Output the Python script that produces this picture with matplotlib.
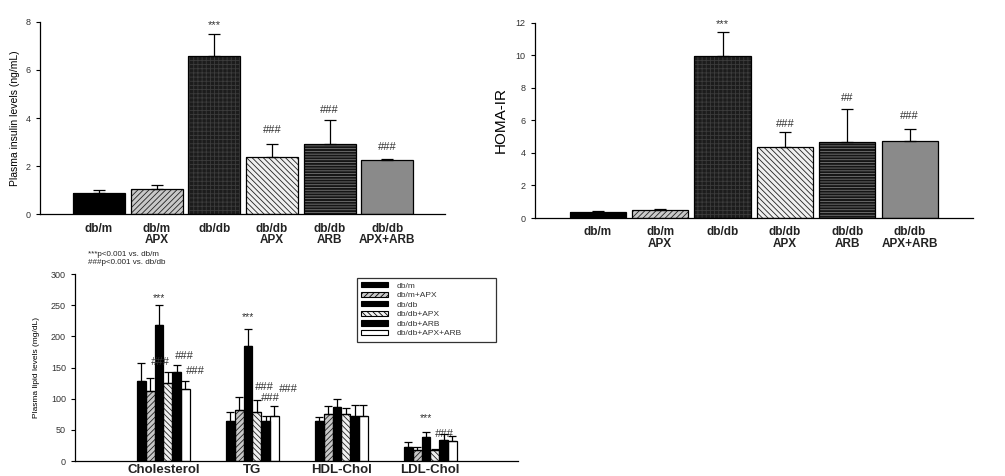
import numpy as np
import matplotlib.pyplot as plt
from matplotlib.patches import Patch

plt.rcParams['font.family'] = ['Liberation Sans', 'DejaVu Sans']
plt.rcParams['hatch.linewidth'] = 0.6

# top panels: six groups
groups = ["db/m", "db/m\nAPX", "db/db", "db/db\nAPX", "db/db\nARB", "db/db\nAPX+ARB"]
insulin = [0.9, 1.05, 6.6, 2.4, 2.9, 2.25]
insulin_err = [0.1, 0.15, 0.9, 0.5, 1.0, 0.05]
insulin_marks = ["", "", "***", "###", "###", "###"]
insulin_mark_y = [0, 0, 7.85, 3.5, 4.35, 2.8]

homa = [0.4, 0.5, 9.95, 4.35, 4.7, 4.75]
homa_err = [0.05, 0.05, 1.5, 0.95, 2.0, 0.75]
homa_marks = ["", "", "***", "###", "##", "###"]
homa_mark_y = [0, 0, 11.9, 5.8, 7.4, 6.3]

# bottom panel: lipids
lipids = ["Cholesterol", "TG", "HDL-Chol", "LDL-Chol"]
series = ["db/m", "db/m+APX", "db/db", "db/db+APX", "db/db+ARB", "db/db+APX+ARB"]
lipid_vals = [
    [128, 65, 65, 22],
    [113, 82, 75, 17],
    [218, 185, 87, 38],
    [126, 78, 75, 18],
    [143, 64, 73, 34],
    [116, 72, 72, 32],
]
lipid_err = [
    [29, 13, 6, 8],
    [20, 21, 13, 5],
    [32, 27, 12, 8],
    [17, 20, 10, 2],
    [11, 8, 17, 9],
    [13, 16, 18, 8],
]
star_x = [-0.05, 0.95, 2.95]
star_y = [261, 231, 69]
hash_x = [-0.04, 0.236, 0.354, 1.13, 1.2, 1.4, 3.157]
hash_y = [159, 168, 144, 119, 101, 115, 43]

# (face, hatch, hatch colour)
top_styles = [("black", "", "black"), ("#c8c8c8", "//////", "#222222"),
              ("#1c1c1c", "++++", "#3c3c3c"), ("#f0f0f0", "\\\\\\\\\\\\", "#222222"),
              ("#151515", "------", "#777777"), ("#8a8a8a", "", "#8a8a8a")]
bot_styles = [("black", "", "black"), ("#c8c8c8", "//////", "#222222"),
              ("black", "", "black"), ("#f0f0f0", "\\\\\\\\\\\\", "#222222"),
              ("black", "", "black"), ("white", "", "white")]


def draw_bar(ax, x, h, w, style):
    face, hatch, hcol = style
    ax.bar(x, h, w, color=face, hatch=hatch, edgecolor=hcol, linewidth=0, zorder=2)
    ax.bar(x, h, w, fill=False, edgecolor="black", linewidth=0.9, zorder=3)


def style_axis(ax):
    for s in ["top", "right"]:
        ax.spines[s].set_visible(False)
    ax.spines["left"].set_linewidth(0.9)
    ax.spines["bottom"].set_linewidth(0.9)
    ax.tick_params(axis="y", labelsize=6.5, colors="black", labelcolor="#333333",
                   length=3, width=0.8)
    ax.tick_params(axis="x", length=0, pad=6)


fig = plt.figure(figsize=(10.05, 4.76), dpi=100)

# insulin
ax1 = fig.add_axes([0.0398, 0.550, 0.403, 0.404])
x = np.arange(len(groups))
for i in range(len(groups)):
    draw_bar(ax1, x[i], insulin[i], 0.9, top_styles[i])
ax1.errorbar(x, insulin, yerr=[np.zeros(6), insulin_err], fmt="none", ecolor="black",
             elinewidth=0.9, capsize=4, capthick=0.9, zorder=4)
for i, m in enumerate(insulin_marks):
    if m:
        ax1.text(x[i], insulin_mark_y[i], m, ha="center", va="center", fontsize=8,
                 color="#333333")
ax1.set_xlim(-1.02, 6.0)
ax1.set_ylim(0, 8)
ax1.set_yticks([0, 2, 4, 6, 8])
ax1.set_xticks(x)
ax1.set_xticklabels(groups, fontsize=8.5, fontweight="bold", color="#222222",
                    linespacing=0.95)
ax1.set_ylabel("Plasma insulin levels (ng/mL)", fontsize=7.5, labelpad=4)
style_axis(ax1)

# HOMA-IR
ax2 = fig.add_axes([0.532, 0.542, 0.436, 0.410])
for i in range(len(groups)):
    draw_bar(ax2, x[i], homa[i], 0.9, top_styles[i])
ax2.errorbar(x, homa, yerr=[np.zeros(6), homa_err], fmt="none", ecolor="black",
             elinewidth=0.9, capsize=4, capthick=0.9, zorder=4)
for i, m in enumerate(homa_marks):
    if m:
        ax2.text(x[i], homa_mark_y[i], m, ha="center", va="center", fontsize=8,
                 color="#333333")
ax2.set_xlim(-1.01, 6.01)
ax2.set_ylim(0, 12)
ax2.set_yticks([0, 2, 4, 6, 8, 10, 12])
ax2.set_xticks(x)
ax2.set_xticklabels(groups, fontsize=8.5, fontweight="bold", color="#222222",
                    linespacing=0.95)
ax2.set_ylabel("HOMA-IR", fontsize=11, labelpad=6)
style_axis(ax2)

# lipids
ax3 = fig.add_axes([0.0746, 0.0315, 0.4404, 0.3925])
gx = np.arange(len(lipids))
w = 0.099
for j in range(len(series)):
    xs = gx + (j - 2.5) * w
    for k in range(len(lipids)):
        draw_bar(ax3, xs[k], lipid_vals[j][k], w, bot_styles[j])
    ax3.errorbar(xs, lipid_vals[j], yerr=[np.zeros(4), lipid_err[j]], fmt="none",
                 ecolor="black", elinewidth=0.9, capsize=3, capthick=0.9, zorder=4)
for xx, yy in zip(star_x, star_y):
    ax3.text(xx, yy, "***", ha="center", va="center", fontsize=7.5, color="#333333")
for xx, yy in zip(hash_x, hash_y):
    ax3.text(xx, yy, "###", ha="center", va="center", fontsize=8, color="#333333",
             style="italic")
ax3.set_xlim(-0.994, 3.98)
ax3.set_ylim(0, 300)
ax3.set_yticks([0, 50, 100, 150, 200, 250, 300])
ax3.set_xticks(gx)
ax3.set_xticklabels(lipids, fontsize=9.5, fontweight="bold", color="#222222")
ax3.tick_params(axis="x", pad=2)
ax3.set_ylabel("Plasma lipid levels (mg/dL)", fontsize=6, labelpad=8)
style_axis(ax3)
ax3.tick_params(axis="x", pad=2)

fig.text(0.0876, 1 - 255 / 476, "***p<0.001 vs. db/m", fontsize=5.8, va="center",
         color="#222222")
fig.text(0.0876, 1 - 263 / 476, "###p<0.001 vs. db/db", fontsize=5.8, va="center",
         color="#222222")

handles = [Patch(facecolor=s[0], hatch=s[1], edgecolor="black", linewidth=0.8)
           for s in bot_styles]
leg = fig.legend(handles, series, loc="upper left",
                 bbox_to_anchor=(353 / 1005, 1 - 342 / 476, 147 / 1005, 68 / 476),
                 mode="expand", fontsize=6, frameon=True, fancybox=False,
                 edgecolor="black", handlelength=3.2, handleheight=0.55,
                 labelspacing=0.25, borderpad=0.5, handletextpad=1.0)
leg.get_frame().set_linewidth(0.9)
for t in leg.get_texts():
    t.set_color("#333333")

plt.savefig("out.png", dpi=100)
